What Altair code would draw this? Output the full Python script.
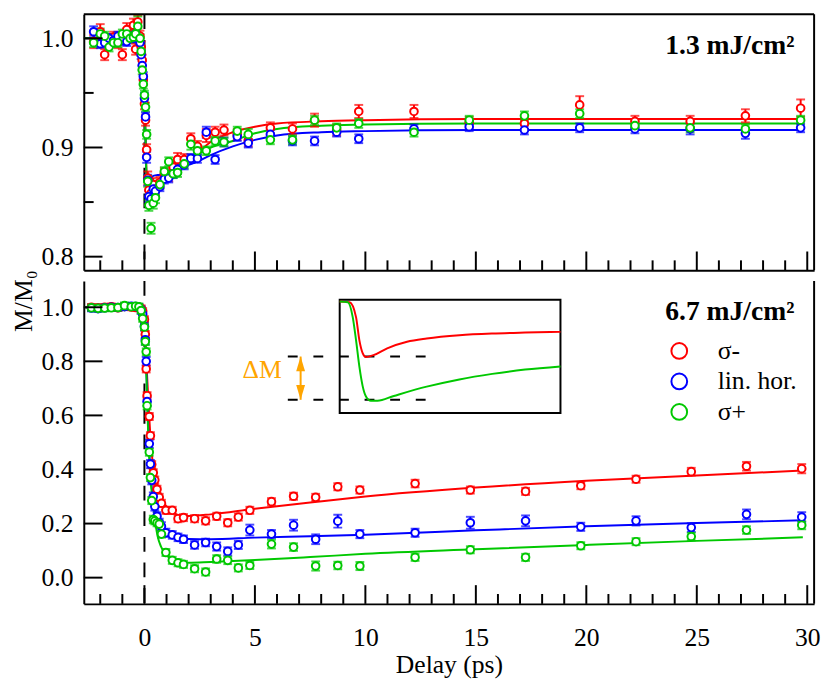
import altair as alt
import pandas as pd

FONT = "Liberation Serif"

series_names = ["σ-", "lin. hor.", "σ+"]
series_colors = ["#ff0000", "#0000ff", "#00c800"]
orange = "#ffa500"

top_label = "1.3 mJ/cm²"
bottom_label = "6.7 mJ/cm²"
y_title = "M/M₀"
x_title = "Delay (ps)"
inset_label = "ΔM"

x_domain = [-2.745, 30.31]
top_y_domain = [0.7876, 1.022]
bot_y_domain = [-0.097, 1.097]

x_major = [0, 5, 10, 15, 20, 25, 30]
x_minor = [-2, -1, 1, 2, 3, 4, 6, 7, 8, 9, 11, 12, 13, 14, 16, 17, 18, 19,
           21, 22, 23, 24, 26, 27, 28, 29]
top_y_major = [0.8, 0.9, 1.0]
top_y_minor = [0.85, 0.95]
bot_y_major = [0.0, 0.2, 0.4, 0.6, 0.8, 1.0]

# ---------------- top panel : 1.3 mJ/cm2 ----------------
t_top = [-2.3, -2.0, -1.8, -1.6, -1.4, -1.2, -1.0, -0.8, -0.65, -0.5,
         -0.4, -0.3, -0.2, -0.15, -0.1, -0.05, 0.0, 0.05, 0.1, 0.15,
         0.2, 0.3, 0.4, 0.5, 0.7, 0.9, 1.1, 1.3, 1.5, 1.8,
         2.1, 2.4, 2.8, 3.2, 3.6, 4.2, 4.7, 5.7, 6.7, 7.7,
         8.7, 9.7, 12.2, 14.7, 17.2, 19.7, 22.2, 24.7, 27.2, 29.7]
top_red = [0.997, 1.006, 0.985, 0.999, 1.001, 0.996, 0.985, 1.008, 1.003, 1.012,
           0.990, 1.015, 1.002, 0.992, 0.980, 0.962, 0.940, 0.925, 0.898, 0.872,
           0.861, 0.858, 0.866, 0.862, 0.868, 0.876, 0.874, 0.882, 0.889, 0.889,
           0.908, 0.901, 0.911, 0.914, 0.916, 0.912, 0.906, 0.918, 0.917, 0.925,
           0.916, 0.933, 0.933, 0.923, 0.922, 0.939, 0.924, 0.924, 0.929, 0.936]
top_blue = [1.006, 0.995, 0.996, 1.000, 0.998, 1.002, 0.998, 0.997, 1.002, 1.000,
            1.004, 1.000, 0.996, 0.985, 0.975, 0.965, 0.945, 0.928, 0.891, 0.870,
            0.855, 0.853, 0.862, 0.860, 0.864, 0.871, 0.872, 0.876, 0.880, 0.884,
            0.890, 0.890, 0.914, 0.889, 0.905, 0.910, 0.904, 0.912, 0.906, 0.906,
            0.914, 0.908, 0.917, 0.919, 0.916, 0.918, 0.917, 0.917, 0.913, 0.918]
top_green = [0.996, 1.004, 1.002, 0.992, 0.996, 0.996, 1.004, 1.004, 1.000, 1.001,
             1.004, 1.011, 1.000, 0.988, 0.971, 0.958, 0.948, 0.937, 0.912, 0.869,
             0.847, 0.826, 0.849, 0.854, 0.866, 0.878, 0.887, 0.876, 0.877, 0.885,
             0.903, 0.897, 0.897, 0.906, 0.905, 0.915, 0.912, 0.907, 0.907, 0.925,
             0.918, 0.922, 0.914, 0.925, 0.929, 0.931, 0.920, 0.918, 0.917, 0.925]
top_err_red = [0.006, 0.007, 0.005, 0.005, 0.005, 0.005, 0.005, 0.006, 0.005, 0.006,
               0.005, 0.006, 0.005, 0.005, 0.005, 0.005, 0.005, 0.005, 0.005, 0.006,
               0.006, 0.005, 0.006, 0.005, 0.005, 0.005, 0.005, 0.005, 0.006, 0.005,
               0.005, 0.005, 0.006, 0.005, 0.005, 0.005, 0.005, 0.005, 0.005, 0.006,
               0.005, 0.006, 0.006, 0.005, 0.005, 0.008, 0.005, 0.005, 0.006, 0.008]
top_err_blue = [0.005, 0.004, 0.004, 0.004, 0.004, 0.004, 0.004, 0.004, 0.004, 0.004,
                0.004, 0.004, 0.004, 0.004, 0.004, 0.004, 0.005, 0.004, 0.005, 0.005,
                0.005, 0.004, 0.004, 0.004, 0.004, 0.004, 0.004, 0.004, 0.004, 0.004,
                0.004, 0.004, 0.005, 0.004, 0.004, 0.004, 0.004, 0.004, 0.004, 0.004,
                0.004, 0.004, 0.004, 0.004, 0.004, 0.004, 0.004, 0.005, 0.005, 0.004]
top_err_green = [0.004, 0.005, 0.004, 0.004, 0.004, 0.004, 0.004, 0.004, 0.004, 0.004,
                 0.004, 0.009, 0.004, 0.004, 0.004, 0.004, 0.004, 0.004, 0.004, 0.005,
                 0.005, 0.005, 0.005, 0.005, 0.004, 0.004, 0.004, 0.004, 0.004, 0.004,
                 0.005, 0.004, 0.004, 0.004, 0.004, 0.004, 0.005, 0.004, 0.004, 0.004,
                 0.004, 0.004, 0.004, 0.004, 0.004, 0.004, 0.004, 0.004, 0.004, 0.004]

fit_top_t = [-2.7, -1.0, -0.5, -0.3, -0.2, -0.1, -0.05, 0.0, 0.05, 0.1,
             0.15, 0.25, 0.4, 0.7, 1.0, 1.5, 2.0, 2.5, 3.0, 4.0,
             5.0, 6.0, 8.0, 10.0, 15.0, 20.0, 29.8]
fit_top_red = [1.000, 1.000, 1.006, 1.008, 1.004, 0.990, 0.975, 0.950, 0.910, 0.870,
               0.857, 0.862, 0.866, 0.872, 0.876, 0.882, 0.889, 0.897, 0.905, 0.914,
               0.919, 0.922, 0.924, 0.925, 0.926, 0.926, 0.926]
fit_top_blue = [1.000, 1.000, 1.001, 1.001, 0.998, 0.988, 0.972, 0.948, 0.905, 0.866,
                0.855, 0.866, 0.874, 0.875, 0.876, 0.880, 0.884, 0.888, 0.893, 0.901,
                0.907, 0.911, 0.914, 0.915, 0.916, 0.916, 0.916]
fit_top_green = [1.000, 1.000, 1.002, 1.003, 1.000, 0.989, 0.973, 0.949, 0.907, 0.866,
                 0.852, 0.858, 0.864, 0.870, 0.876, 0.883, 0.889, 0.895, 0.900, 0.906,
                 0.913, 0.917, 0.920, 0.921, 0.922, 0.922, 0.922]

# ---------------- bottom panel : 6.7 mJ/cm2 ----------------
t_bot = [-2.4, -2.1, -1.8, -1.5, -1.2, -0.9, -0.6, -0.4, -0.25, -0.15,
         -0.08, 0.0, 0.04, 0.08, 0.12, 0.22, 0.27, 0.33, 0.4, 0.47,
         0.57, 0.67, 0.77, 0.97, 1.26, 1.52, 1.77, 2.27, 2.77, 3.27,
         3.77, 4.25, 4.77, 5.75, 6.75, 7.75, 8.75, 9.75, 12.25, 14.75,
         17.25, 19.75, 22.25, 24.75, 27.25, 29.75]
bot_red = [1.000, 0.998, 1.000, 1.002, 0.998, 1.003, 1.001, 0.999, 0.998, 0.995,
           0.985, 0.955, 0.900, 0.772, 0.673, 0.596, 0.525, 0.418, 0.388, 0.361,
           0.327, 0.297, 0.275, 0.249, 0.249, 0.218, 0.222, 0.218, 0.210, 0.227,
           0.203, 0.224, 0.249, 0.281, 0.301, 0.297, 0.336, 0.324, 0.348, 0.324,
           0.319, 0.340, 0.364, 0.392, 0.412, 0.403]
bot_blue = [0.997, 0.995, 0.998, 1.000, 0.999, 1.002, 1.004, 1.003, 1.000, 0.990,
            0.975, 0.930, 0.880, 0.800, 0.651, 0.495, 0.420, 0.360, 0.300, 0.263,
            0.227, 0.203, 0.190, 0.166, 0.158, 0.149, 0.142, 0.121, 0.130, 0.115,
            0.097, 0.121, 0.176, 0.161, 0.194, 0.142, 0.209, 0.161, 0.166, 0.203,
            0.210, 0.188, 0.210, 0.185, 0.234, 0.224]
bot_green = [0.998, 0.996, 0.997, 0.998, 0.999, 1.006, 1.002, 1.004, 1.002, 0.988,
             0.958, 0.927, 0.873, 0.835, 0.636, 0.464, 0.370, 0.285, 0.215, 0.210,
             0.203, 0.198, 0.161, 0.093, 0.064, 0.055, 0.049, 0.033, 0.021, 0.069,
             0.064, 0.036, 0.045, 0.124, 0.113, 0.043, 0.045, 0.043, 0.075, 0.103,
             0.075, 0.118, 0.133, 0.152, 0.176, 0.194]
bot_err_red = [0.012, 0.012, 0.012, 0.012, 0.012, 0.012, 0.012, 0.012, 0.012, 0.012,
               0.012, 0.012, 0.012, 0.013, 0.013, 0.013, 0.013, 0.013, 0.013, 0.013,
               0.013, 0.013, 0.013, 0.013, 0.013, 0.013, 0.013, 0.013, 0.013, 0.013,
               0.013, 0.013, 0.013, 0.013, 0.013, 0.013, 0.013, 0.013, 0.014, 0.013,
               0.013, 0.013, 0.013, 0.014, 0.016, 0.017]
bot_err_blue = [0.012, 0.012, 0.012, 0.012, 0.012, 0.012, 0.012, 0.012, 0.012, 0.014,
                0.014, 0.016, 0.018, 0.016, 0.016, 0.015, 0.015, 0.015, 0.015, 0.015,
                0.015, 0.015, 0.015, 0.015, 0.014, 0.014, 0.014, 0.014, 0.014, 0.015,
                0.015, 0.015, 0.020, 0.015, 0.020, 0.018, 0.024, 0.015, 0.015, 0.022,
                0.020, 0.015, 0.017, 0.016, 0.018, 0.018]
bot_err_green = [0.012, 0.012, 0.012, 0.012, 0.012, 0.012, 0.012, 0.012, 0.012, 0.012,
                 0.012, 0.012, 0.013, 0.013, 0.014, 0.013, 0.013, 0.013, 0.014, 0.013,
                 0.013, 0.013, 0.013, 0.013, 0.013, 0.013, 0.013, 0.013, 0.013, 0.014,
                 0.014, 0.013, 0.013, 0.016, 0.014, 0.017, 0.014, 0.015, 0.013, 0.013,
                 0.013, 0.013, 0.013, 0.014, 0.014, 0.015]

fit_bot_t = [-2.7, -0.5, -0.2, -0.1, 0.0, 0.05, 0.1, 0.15, 0.2, 0.3,
             0.4, 0.5, 0.6, 0.75, 0.9, 1.1, 1.3, 1.6, 2.0, 3.0,
             5.0, 7.5, 10.0, 15.0, 20.0, 25.0, 29.8]
fit_bot_red = [1.000, 1.000, 0.998, 0.990, 0.950, 0.870, 0.780, 0.700, 0.620, 0.490,
               0.410, 0.370, 0.340, 0.300, 0.275, 0.252, 0.240, 0.231, 0.228, 0.234,
               0.255, 0.278, 0.300, 0.333, 0.358, 0.378, 0.396]
fit_bot_blue = [1.000, 1.000, 0.998, 0.990, 0.940, 0.840, 0.740, 0.600, 0.500, 0.360,
                0.290, 0.245, 0.212, 0.185, 0.170, 0.160, 0.153, 0.147, 0.143, 0.142,
                0.148, 0.153, 0.159, 0.175, 0.190, 0.202, 0.212]
fit_bot_green = [1.000, 1.000, 0.998, 0.990, 0.940, 0.830, 0.720, 0.580, 0.470, 0.340,
                 0.270, 0.200, 0.152, 0.115, 0.095, 0.075, 0.066, 0.058, 0.055, 0.058,
                 0.065, 0.076, 0.088, 0.105, 0.121, 0.136, 0.149]

# ---------------- inset (schematic, its own unit coordinates) ----------------
inset_u_red = [0.0, 0.045, 0.074, 0.089, 0.104, 0.119, 0.156, 0.215, 0.305, 0.394,
               0.542, 0.691, 0.840, 1.0]
inset_w_red = [0.985, 0.977, 0.846, 0.643, 0.528, 0.493, 0.513, 0.571, 0.629, 0.658,
               0.687, 0.702, 0.710, 0.716]
inset_u_green = [0.0, 0.037, 0.059, 0.074, 0.089, 0.104, 0.119, 0.141, 0.171, 0.245,
                 0.394, 0.542, 0.691, 0.840, 1.0]
inset_w_green = [0.985, 0.977, 0.846, 0.643, 0.411, 0.237, 0.145, 0.107, 0.107, 0.150,
                 0.232, 0.296, 0.345, 0.383, 0.411]
inset_levels = [0.498, 0.116]
inset_dash_span = [-0.235, 0.401]
inset_arrow_u = -0.177
inset_text_pos = [-0.351, 0.31]

# ---------------- layout ----------------
W = 742
TOP_H = 260
BOT_H = 328
MAJOR_LEN = 19
MINOR_LEN = 10

XS = alt.Scale(domain=x_domain, nice=False, zero=False)
YS_TOP = alt.Scale(domain=top_y_domain, nice=False, zero=False)
YS_BOT = alt.Scale(domain=bot_y_domain, nice=False, zero=False)
IXS = alt.Scale(domain=[0, 1], range=[260, 484.3], nice=False, zero=False)
IYS = alt.Scale(domain=[0, 1], range=[134, 19], nice=False, zero=False)


def points_frame(t, vals, errs):
    rows = []
    for name, color, v, e in zip(series_names, series_colors, vals, errs):
        for ti, vi, ei in zip(t, v, e):
            rows.append({"t": ti, "m": vi, "lo": vi - ei, "hi": vi + ei,
                         "series": name, "hex": color})
    return pd.DataFrame(rows)


def fit_frame(t, vals):
    rows = []
    for name, color, v in zip(series_names, series_colors, vals):
        for ti, vi in zip(t, v):
            rows.append({"t": ti, "m": vi, "series": name, "hex": color})
    return pd.DataFrame(rows)


def caps_frame(pts):
    a = pts[["t", "lo", "hex"]].rename(columns={"lo": "c"})
    b = pts[["t", "hi", "hex"]].rename(columns={"hi": "c"})
    return pd.concat([a, b], ignore_index=True)


def panel_layers(pts, fits, ys, H, x_axis, y_axis, ymaj, ymin, label, stroke_enc, label_y):
    # the same axis definition is given to every layer so that they merge into one
    def X(f):
        return alt.X(f, type="quantitative", scale=XS, axis=x_axis)

    def Y(f):
        return alt.Y(f, type="quantitative", scale=ys, axis=y_axis)

    one = pd.DataFrame({"k": [0]})
    zero = alt.Chart(pd.DataFrame({"t": [0.0]})).mark_rule(
        color="black", strokeWidth=2, strokeDash=[15, 11]
    ).encode(x=X("t"))
    fit = alt.Chart(fits).mark_line(strokeWidth=2, interpolate="monotone").encode(
        x=X("t"), y=Y("m"),
        color=alt.Color("hex:N", scale=None),
        detail="series:N",
    )
    bars = alt.Chart(pts).mark_rule(strokeWidth=2).encode(
        x=X("t"), y=Y("lo"), y2="hi:Q",
        color=alt.Color("hex:N", scale=None),
    )
    caps = alt.Chart(caps_frame(pts)).mark_tick(orient="horizontal", size=9, thickness=2).encode(
        x=X("t"), y=Y("c"),
        color=alt.Color("hex:N", scale=None),
    )
    dots = alt.Chart(pts).mark_point(
        shape="circle", filled=True, fill="white", strokeWidth=2, size=60, opacity=1
    ).encode(x=X("t"), y=Y("m"), stroke=stroke_enc)
    ytm = alt.Chart(pd.DataFrame({"v": ymaj})).mark_rule(color="black", strokeWidth=2).encode(
        y=Y("v"), x=alt.value(0), x2=alt.value(MAJOR_LEN))
    layers = [zero, fit, bars, caps, dots, ytm]
    if ymin:
        ytn = alt.Chart(pd.DataFrame({"v": ymin})).mark_rule(color="black", strokeWidth=2).encode(
            y=Y("v"), x=alt.value(0), x2=alt.value(MINOR_LEN))
        layers.append(ytn)
    xtm = alt.Chart(pd.DataFrame({"v": x_major})).mark_rule(color="black", strokeWidth=2).encode(
        x=X("v"), y=alt.value(H), y2=alt.value(H - MAJOR_LEN))
    xtn = alt.Chart(pd.DataFrame({"v": x_minor})).mark_rule(color="black", strokeWidth=2).encode(
        x=X("v"), y=alt.value(H), y2=alt.value(H - MINOR_LEN))
    right = alt.Chart(one).mark_rule(color="black", strokeWidth=2).encode(
        x=alt.value(W), y=alt.value(0), y2=alt.value(H))
    txt = alt.Chart(pd.DataFrame({"label": [label]})).mark_text(
        font=FONT, fontSize=28, fontWeight="bold", align="right", baseline="alphabetic",
        color="black"
    ).encode(x=alt.value(722), y=alt.value(label_y), text="label:N")
    layers += [xtm, xtn, right, txt]
    return layers


top_pts = points_frame(t_top, [top_red, top_blue, top_green],
                       [top_err_red, top_err_blue, top_err_green])
top_fit = fit_frame(fit_top_t, [fit_top_red, fit_top_blue, fit_top_green])
bot_pts = points_frame(t_bot, [bot_red, bot_blue, bot_green],
                       [bot_err_red, bot_err_blue, bot_err_green])
bot_fit = fit_frame(fit_bot_t, [fit_bot_red, fit_bot_blue, fit_bot_green])

top_x_axis = alt.Axis(values=x_major, labels=False, ticks=False, tickSize=0, title=None,
                      domainWidth=2, domainColor="black")
top_y_axis = alt.Axis(values=top_y_major, format=".1f", title=None, labelPadding=11,
                      ticks=False, tickSize=0, domainWidth=2, domainColor="black")
bot_x_axis = alt.Axis(values=x_major, format="d", title=x_title, labelPadding=21,
                      titlePadding=2, ticks=False, tickSize=0, domainWidth=2,
                      domainColor="black")
bot_y_axis = alt.Axis(values=bot_y_major, format=".1f", title=y_title, labelPadding=11,
                      ticks=False, tickSize=0, domainWidth=2, domainColor="black",
                      titleX=-53, titleY=20, titleAngle=270, titleAlign="center",
                      titleBaseline="alphabetic")

top_layers = panel_layers(top_pts, top_fit, YS_TOP, TOP_H, top_x_axis, top_y_axis,
                          top_y_major, top_y_minor, top_label,
                          alt.Stroke("hex:N", scale=None), 40)
top_border = alt.Chart(pd.DataFrame({"k": [0]})).mark_rule(color="black", strokeWidth=2).encode(
    x=alt.value(0), x2=alt.value(W), y=alt.value(0))
top = alt.layer(*top_layers, top_border).properties(width=W, height=TOP_H)

legend = alt.Legend(orient="none", legendX=592, legendY=58, title=None,
                    symbolType="circle", symbolSize=256, symbolStrokeWidth=2,
                    labelFont=FONT, labelFontSize=26, labelColor="black",
                    labelOffset=26, rowPadding=5, padding=0)
bot_stroke = alt.Stroke("series:N",
                        scale=alt.Scale(domain=series_names, range=series_colors),
                        legend=legend)
bot_layers = panel_layers(bot_pts, bot_fit, YS_BOT, BOT_H, bot_x_axis, bot_y_axis,
                          bot_y_major, None, bottom_label, bot_stroke, 40)
main_bot = alt.layer(*bot_layers)

# inset layers (own scales, no axes)
inset_box = alt.Chart(pd.DataFrame({"u0": [0.0], "u1": [1.0], "w0": [0.0], "w1": [1.0]})).mark_rect(
    fill="white", stroke="black", strokeWidth=2
).encode(
    x=alt.X("u0:Q", scale=IXS, axis=None), x2="u1:Q",
    y=alt.Y("w0:Q", scale=IYS, axis=None), y2="w1:Q",
)
inset_red = alt.Chart(pd.DataFrame({"u": inset_u_red, "w": inset_w_red})).mark_line(
    color=series_colors[0], strokeWidth=2, interpolate="monotone"
).encode(x=alt.X("u:Q", scale=IXS, axis=None), y=alt.Y("w:Q", scale=IYS, axis=None))
inset_green = alt.Chart(pd.DataFrame({"u": inset_u_green, "w": inset_w_green})).mark_line(
    color=series_colors[2], strokeWidth=2, interpolate="monotone"
).encode(x=alt.X("u:Q", scale=IXS, axis=None), y=alt.Y("w:Q", scale=IYS, axis=None))
dash_df = pd.DataFrame({"u0": [inset_dash_span[0]] * 2, "u1": [inset_dash_span[1]] * 2,
                        "w": inset_levels})
inset_dash = alt.Chart(dash_df).mark_rule(color="black", strokeWidth=2, strokeDash=[10, 16]).encode(
    x=alt.X("u0:Q", scale=IXS, axis=None), x2="u1:Q",
    y=alt.Y("w:Q", scale=IYS, axis=None),
)
arrow_df = pd.DataFrame({"u": [inset_arrow_u], "w0": [inset_levels[1]], "w1": [inset_levels[0]]})
shaft = alt.Chart(arrow_df).mark_rule(color=orange, strokeWidth=2).encode(
    x=alt.X("u:Q", scale=IXS, axis=None),
    y=alt.Y("w0:Q", scale=IYS, axis=None), y2="w1:Q",
)
head_up = alt.Chart(arrow_df).mark_point(
    shape="M0,-1L0.6,1L-0.6,1Z", filled=True, color=orange, size=225, opacity=1, yOffset=7.5
).encode(x=alt.X("u:Q", scale=IXS, axis=None), y=alt.Y("w1:Q", scale=IYS, axis=None))
head_dn = alt.Chart(arrow_df).mark_point(
    shape="M0,1L0.6,-1L-0.6,-1Z", filled=True, color=orange, size=225, opacity=1, yOffset=-7.5
).encode(x=alt.X("u:Q", scale=IXS, axis=None), y=alt.Y("w0:Q", scale=IYS, axis=None))
dm_text = alt.Chart(pd.DataFrame({"u": [inset_text_pos[0]], "w": [inset_text_pos[1]],
                                  "label": [inset_label]})).mark_text(
    font=FONT, fontSize=26, color=orange, align="center", baseline="alphabetic"
).encode(x=alt.X("u:Q", scale=IXS, axis=None), y=alt.Y("w:Q", scale=IYS, axis=None),
         text="label:N")
inset = alt.layer(inset_box, inset_dash, inset_red, inset_green, shaft, head_up, head_dn, dm_text)

bottom = alt.layer(main_bot, inset).resolve_scale(x="independent", y="independent").properties(
    width=W, height=BOT_H)

chart = alt.vconcat(
    top, bottom, spacing=11, bounds="flush",
    padding={"left": 3, "top": 0, "right": 0, "bottom": 0},
).resolve_scale(
    stroke="independent"
).resolve_legend(stroke="independent").configure_view(stroke=None).configure_axis(
    grid=False, labelFont=FONT, labelFontSize=26, labelColor="black",
    titleFont=FONT, titleFontSize=26, titleFontWeight="normal", titleColor="black"
)

chart.save("out.html", embed_options={"renderer": "svg", "actions": False})
